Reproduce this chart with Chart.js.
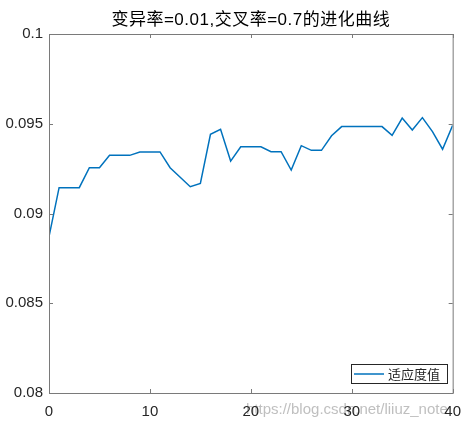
<!DOCTYPE html>
<html>
<head>
<meta charset="utf-8">
<script src="https://cdn.jsdelivr.net/npm/chart.js@4"></script>
<style>
  html, body { margin: 0; padding: 0; background: #fff; }
  #wrap { width: 471px; height: 425px; }
</style>
</head>
<body>
<div id="wrap"><canvas id="evo"></canvas></div>
<script>
// generation index and best fitness per generation
const generations = [0, 1, 2, 3, 4, 5, 6, 7, 8, 9, 10, 11, 12, 13, 14, 15, 16, 17, 18, 19, 20,
  21, 22, 23, 24, 25, 26, 27, 28, 29, 30, 31, 32, 33, 34, 35, 36, 37, 38, 39, 40];
const fitness = [0.08871, 0.09144, 0.09144, 0.09144, 0.09255, 0.09255, 0.09324, 0.09324, 0.09324,
  0.09343, 0.09343, 0.09343, 0.09255, 0.09202, 0.09149, 0.09168, 0.09441, 0.09469, 0.09292,
  0.09372, 0.09372, 0.09372, 0.09344, 0.09344, 0.09242, 0.09378, 0.09352, 0.09352, 0.09433,
  0.09484, 0.09484, 0.09484, 0.09484, 0.09484, 0.09435, 0.09532, 0.09465, 0.09534, 0.09456,
  0.09358, 0.09491];
const xTicks = [0, 10, 20, 30, 40];
const yTicks = [0.08, 0.085, 0.09, 0.095, 0.1];
const seriesName = '适应度值';
const titleText = '变异率=0.01,交叉率=0.7的进化曲线';
const watermark = 'https://blog.csdn.net/liiuz_note';

const lineColor = '#0072BD';
const axisColor = '#7a7a7a';
const textFont = '"Liberation Sans", Arial, "Noto Sans CJK SC", sans-serif';

// matlab style box with inward ticks, title over the axes, legend inside, csdn watermark
const matlabBox = {
  id: 'matlabBox',
  beforeDraw(chart) {
    const ctx = chart.ctx;
    ctx.save();
    ctx.font = '15px ' + textFont;
    ctx.fillStyle = 'rgba(170,170,170,0.75)';
    ctx.textBaseline = 'middle';
    ctx.fillText(watermark, 246, 410);
    ctx.restore();
  },
  afterDatasetsDraw(chart) {
    const { ctx, chartArea: a, scales } = chart;
    ctx.save();
    ctx.strokeStyle = axisColor;
    ctx.lineWidth = 1;
    ctx.strokeRect(a.left + 0.5, a.top + 0.5, a.right - a.left, a.bottom - a.top);
    ctx.beginPath();
    xTicks.forEach(v => {
      const x = Math.round(scales.x.getPixelForValue(v)) + 0.5;
      ctx.moveTo(x, a.bottom); ctx.lineTo(x, a.bottom - 4);
      ctx.moveTo(x, a.top); ctx.lineTo(x, a.top + 4);
    });
    yTicks.forEach(v => {
      const y = Math.round(scales.y.getPixelForValue(v)) + 0.5;
      ctx.moveTo(a.left, y); ctx.lineTo(a.left + 4, y);
      ctx.moveTo(a.right, y); ctx.lineTo(a.right - 4, y);
    });
    ctx.stroke();

    // title, centred on the axes
    ctx.fillStyle = '#000';
    ctx.font = '17px ' + textFont;
    ctx.letterSpacing = '0.5px';
    ctx.textAlign = 'center';
    ctx.textBaseline = 'middle';
    ctx.fillText(titleText, (a.left + a.right) / 2, 20);
    ctx.letterSpacing = '0px';
    ctx.textAlign = 'left';

    // legend
    const lx = 351, ly = 364, lw = 96, lh = 19;
    ctx.fillStyle = '#fff';
    ctx.fillRect(lx, ly, lw, lh);
    ctx.strokeStyle = '#262626';
    ctx.strokeRect(lx + 0.5, ly + 0.5, lw, lh);
    ctx.strokeStyle = lineColor;
    ctx.lineWidth = 1.5;
    ctx.beginPath();
    ctx.moveTo(lx + 3, ly + 10); ctx.lineTo(lx + 33, ly + 10);
    ctx.stroke();
    ctx.fillStyle = '#262626';
    ctx.font = '13px "Noto Sans CJK SC", sans-serif';
    ctx.fillText(chart.data.datasets[0].label, lx + 37, ly + 10);
    ctx.restore();
  }
};

new Chart(document.getElementById('evo'), {
  type: 'line',
  data: {
    datasets: [{
      label: seriesName,
      data: generations.map((g, i) => ({ x: g, y: fitness[i] })),
      borderColor: lineColor,
      borderWidth: 1.5,
      pointRadius: 0,
      tension: 0,
      fill: false,
    }],
  },
  options: {
    responsive: true,
    maintainAspectRatio: false,
    animation: false,
    layout: { padding: { left: 0, right: 16, top: 34, bottom: 0 } },
    plugins: {
      legend: { display: false },
      tooltip: { enabled: false },
      title: { display: false },
    },
    scales: {
      x: {
        type: 'linear',
        min: 0,
        max: 40,
        grid: { display: false, drawTicks: false },
        border: { display: false },
        afterBuildTicks: s => { s.ticks = xTicks.map(v => ({ value: v })); },
        afterFit: s => { s.height = 32; },
        ticks: {
          color: '#262626',
          padding: 10,
          maxRotation: 0,
          font: { size: 15, family: textFont },
        },
      },
      y: {
        min: 0.08,
        max: 0.1,
        grid: { display: false, drawTicks: false },
        border: { display: false },
        afterBuildTicks: s => { s.ticks = yTicks.map(v => ({ value: v })); },
        afterFit: s => { s.width = 49; },
        ticks: {
          color: '#262626',
          padding: 6,
          font: { size: 15, family: textFont },
          callback: v => String(parseFloat(Number(v).toFixed(4))),
        },
      },
    },
  },
  plugins: [matlabBox],
});
</script>
</body>
</html>
